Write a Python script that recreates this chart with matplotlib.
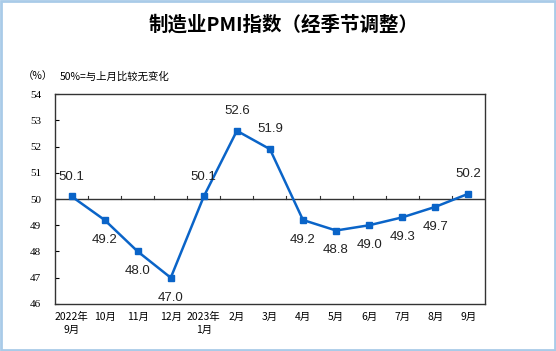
import numpy as np
import matplotlib.pyplot as plt
from matplotlib.patches import Rectangle

plt.rcParams['font.family'] = ['Noto Sans CJK SC', 'DejaVu Sans']

months = ['2022年\n9月', '10月', '11月', '12月', '2023年\n1月', '2月', '3月',
          '4月', '5月', '6月', '7月', '8月', '9月']
pmi = [50.1, 49.2, 48.0, 47.0, 50.1, 52.6, 51.9, 49.2, 48.8, 49.0, 49.3, 49.7, 50.2]
label_above = [True, False, False, False, True, True, True, False, False, False, False, False, True]

blue = '#0a64c8'

fig = plt.figure(figsize=(5.56, 3.51), dpi=100)
ax = fig.add_axes([0.099, 0.134, 0.773, 0.598])

x = np.arange(len(pmi))
ax.plot(x, pmi, color=blue, lw=1.8, marker='s', ms=4.5, zorder=3)

for xi, v, up in zip(x, pmi, label_above):
    dy = 10 if up else -10
    ax.annotate(f'{v:.1f}', (xi, v), xytext=(0, dy), textcoords='offset points',
                ha='center', va='bottom' if up else 'top', fontsize=9.5,
                family='Liberation Sans', color='#222222')

ax.set_xlim(-0.5, len(pmi) - 0.5)
ax.set_ylim(46, 54)
ax.axhline(50, color='#333333', lw=1)
# category dividers on the 50 line
for b in np.arange(0.5, len(pmi) - 1, 1):
    ax.plot([b, b], [50, 50.1], color='#333333', lw=0.8)

ax.set_yticks(range(46, 55))
ax.set_yticklabels([str(v) for v in range(46, 55)], family='Liberation Serif', fontsize=8)
ax.tick_params(axis='y', direction='in', length=3, pad=10)
ax.set_xticks(x)
ax.set_xticklabels(months, fontsize=7.5, linespacing=1.3)
ax.tick_params(axis='x', length=0, pad=6)
for s in ax.spines.values():
    s.set_color('#333333')
    s.set_linewidth(1)

fig.text(0.51, 0.929, '制造业PMI指数（经季节调整）', ha='center', va='center',
         fontsize=14, fontweight='bold')
fig.text(0.068, 0.783, '（%）', ha='center', va='center', fontsize=7.5)
fig.text(0.108, 0.783, '50%=与上月比较无变化', ha='left', va='center', fontsize=7.5)

fig.patches.append(Rectangle((0.002, 0.003), 0.996, 0.994, transform=fig.transFigure,
                             fill=False, edgecolor='#a9cbe8', lw=2))

fig.savefig('out.png', dpi=100)
